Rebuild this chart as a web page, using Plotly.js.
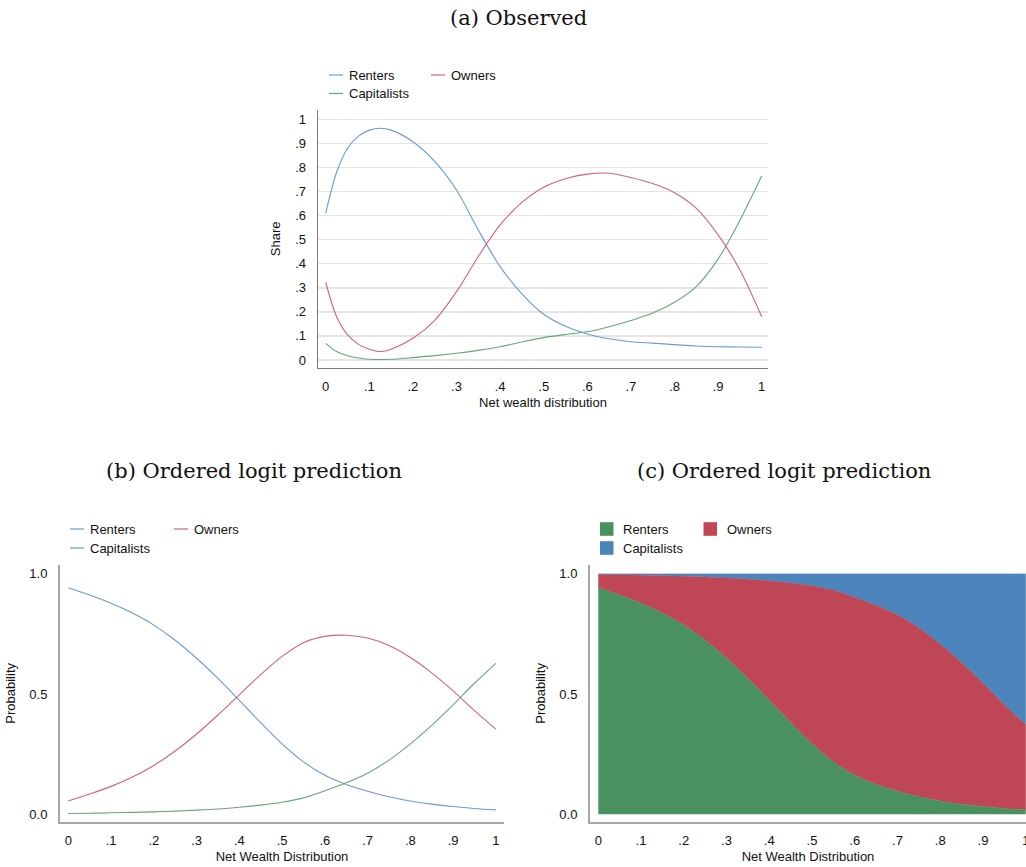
<!DOCTYPE html>
<html>
<head>
<meta charset="utf-8">
<script src="https://cdn.plot.ly/plotly-3.0.1.min.js"></script>
<style>
  html, body { margin: 0; padding: 0; background: #ffffff; overflow: hidden; }
  #chart { width: 1026px; height: 867px; }
</style>
</head>
<body>
<div id="chart"></div>
<script>
// ---- data ----
const seriesNames = ['Renters', 'Owners', 'Capitalists'];

// (a) observed shares along the net wealth distribution
const obsX = [0, 0.025, 0.05, 0.075, 0.1, 0.125, 0.15, 0.2, 0.25, 0.3, 0.35, 0.4, 0.45, 0.5, 0.55, 0.6, 0.65, 0.7, 0.75, 0.8, 0.85, 0.9, 0.95, 1];
const obsRenters = [0.61, 0.78, 0.88, 0.93, 0.955, 0.963, 0.955, 0.907, 0.825, 0.706, 0.54, 0.388, 0.275, 0.19, 0.14, 0.108, 0.088, 0.076, 0.07, 0.064, 0.058, 0.055, 0.054, 0.053];
const obsOwners = [0.323, 0.18, 0.105, 0.065, 0.045, 0.035, 0.045, 0.09, 0.165, 0.284, 0.43, 0.561, 0.655, 0.718, 0.753, 0.772, 0.776, 0.758, 0.733, 0.695, 0.63, 0.52, 0.374, 0.18];
const obsCapitalists = [0.069, 0.035, 0.018, 0.008, 0.003, 0.002, 0.003, 0.01, 0.018, 0.028, 0.04, 0.055, 0.075, 0.093, 0.106, 0.117, 0.138, 0.164, 0.195, 0.24, 0.305, 0.42, 0.58, 0.765];

// (b), (c) ordered logit predicted probabilities
const predX = [0, 0.05, 0.1, 0.15, 0.2, 0.25, 0.3, 0.35, 0.4, 0.45, 0.5, 0.55, 0.6, 0.65, 0.7, 0.75, 0.8, 0.85, 0.9, 0.95, 1];
const predRenters = [0.942, 0.912, 0.878, 0.837, 0.787, 0.724, 0.649, 0.565, 0.474, 0.381, 0.293, 0.218, 0.162, 0.124, 0.096, 0.073, 0.055, 0.042, 0.032, 0.024, 0.018];
const predOwners = [0.055, 0.084, 0.116, 0.155, 0.203, 0.263, 0.334, 0.413, 0.497, 0.581, 0.657, 0.714, 0.74, 0.745, 0.733, 0.702, 0.652, 0.588, 0.513, 0.431, 0.354];
const predCapitalists = [0.003, 0.004, 0.006, 0.008, 0.01, 0.013, 0.017, 0.022, 0.029, 0.038, 0.05, 0.068, 0.098, 0.131, 0.171, 0.225, 0.293, 0.37, 0.455, 0.545, 0.628];

// tick labels
const xTickVals = [0, 0.1, 0.2, 0.3, 0.4, 0.5, 0.6, 0.7, 0.8, 0.9, 1];
const xTickText = ['0', '.1', '.2', '.3', '.4', '.5', '.6', '.7', '.8', '.9', '1'];
const shareTickVals = [0, 0.1, 0.2, 0.3, 0.4, 0.5, 0.6, 0.7, 0.8, 0.9, 1];
const shareTickText = ['0', '.1', '.2', '.3', '.4', '.5', '.6', '.7', '.8', '.9', '1'];
const probTickVals = [0, 0.5, 1];
const probTickText = ['0.0', '0.5', '1.0'];

const panelTitles = ['(a) Observed', '(b) Ordered logit prediction', '(c) Ordered logit prediction'];
const shareTitle = 'Share';
const probTitle = 'Probability';
const xTitleA = 'Net wealth distribution';
const xTitleBC = 'Net Wealth Distribution';

// ---- styling ----
const W = 1026, H = 867;
const SANS = 'Liberation Sans, Arial, sans-serif';
const SERIF = 'DejaVu Serif, serif';
const TEXT = '#111111';
const FS = 13;
const lineColors = { Renters: '#6a9bd1', Owners: '#d0637a', Capitalists: '#67a677' };
const fillColors = { Renters: '#49915e', Owners: '#bf4655', Capitalists: '#4b85bb' };

// pixel helpers -> paper fractions
const px = v => v / W;
const py = v => 1 - v / H;
const xDom = (l, r) => [px(l), px(r)];
const yDom = (t, b) => [py(b), py(t)];

const obsSeries = [obsRenters, obsOwners, obsCapitalists];
const predSeries = [predRenters, predOwners, predCapitalists];

const traces = [];
seriesNames.forEach((name, i) => {
  traces.push({
    type: 'scatter', mode: 'lines', name: name,
    x: obsX, y: obsSeries[i], xaxis: 'x', yaxis: 'y',
    line: { color: lineColors[name], width: 1.1, shape: 'spline', smoothing: 0.9 },
    showlegend: false, hoverinfo: 'skip'
  });
});
seriesNames.forEach((name, i) => {
  traces.push({
    type: 'scatter', mode: 'lines', name: name,
    x: predX, y: predSeries[i], xaxis: 'x2', yaxis: 'y2',
    line: { color: lineColors[name], width: 1.1, shape: 'spline', smoothing: 1 },
    showlegend: false, hoverinfo: 'skip'
  });
});
seriesNames.forEach((name, i) => {
  traces.push({
    type: 'scatter', mode: 'lines', name: name,
    x: predX, y: predSeries[i], xaxis: 'x3', yaxis: 'y3',
    stackgroup: 'stack',
    fillcolor: fillColors[name],
    line: { color: fillColors[name], width: 0.6, shape: 'spline', smoothing: 1 },
    showlegend: false, hoverinfo: 'skip'
  });
});

function xAxis(domain, range, anchor, title) {
  return {
    domain: domain, range: range, anchor: anchor,
    tickmode: 'array', tickvals: xTickVals, ticktext: xTickText,
    ticks: 'outside', ticklen: 6, tickcolor: 'rgba(0,0,0,0)',
    ticklabeloverflow: 'allow',
    tickfont: { family: SANS, size: FS, color: TEXT },
    showgrid: false, zeroline: false,
    showline: true, linecolor: anchor === 'y' ? '#7a7a7a' : '#a8a8a8', linewidth: anchor === 'y' ? 1.3 : 2,
    title: { text: title, font: { family: SANS, size: FS, color: TEXT }, standoff: 5 },
    automargin: 'height', fixedrange: true
  };
}
function yAxis(domain, range, anchor, vals, text, title, grid) {
  return {
    domain: domain, range: range, anchor: anchor,
    tickmode: 'array', tickvals: vals, ticktext: text,
    ticks: 'outside', ticklen: 8, tickcolor: 'rgba(0,0,0,0)',
    tickfont: { family: SANS, size: FS, color: TEXT },
    showgrid: grid, gridcolor: '#e4e4e4', gridwidth: 1.5,
    zeroline: false,
    showline: true, linecolor: anchor === 'x' ? '#7a7a7a' : '#a8a8a8', linewidth: anchor === 'x' ? 1.3 : 2,
    title: { text: title, font: { family: SANS, size: FS, color: TEXT }, standoff: 11 },
    automargin: 'width', fixedrange: true
  };
}

// ---- legends (line samples / swatches with labels) ----
const shapes = [];
const annotations = [];
function lineLegend(entries) {
  entries.forEach(e => {
    shapes.push({ type: 'line', xref: 'paper', yref: 'paper',
      x0: px(e.x), x1: px(e.x + 14), y0: py(e.y), y1: py(e.y),
      line: { color: lineColors[e.name], width: 1.2 } });
    annotations.push({ xref: 'paper', yref: 'paper', x: px(e.x + 18), y: py(e.y),
      xanchor: 'left', yanchor: 'middle', showarrow: false, text: e.name,
      font: { family: SANS, size: FS, color: TEXT } });
  });
}
function boxLegend(entries) {
  entries.forEach(e => {
    shapes.push({ type: 'rect', xref: 'paper', yref: 'paper',
      x0: px(e.x), x1: px(e.x + 13.5), y0: py(e.y + 6.8), y1: py(e.y - 6.8),
      fillcolor: fillColors[e.name], line: { width: 0 } });
    annotations.push({ xref: 'paper', yref: 'paper', x: px(e.x + 21), y: py(e.y),
      xanchor: 'left', yanchor: 'middle', showarrow: false, text: e.name,
      font: { family: SANS, size: FS, color: TEXT } });
  });
}
lineLegend([
  { name: seriesNames[0], x: 329, y: 75 },
  { name: seriesNames[1], x: 431, y: 75 },
  { name: seriesNames[2], x: 329, y: 93.5 }
]);
lineLegend([
  { name: seriesNames[0], x: 70, y: 529 },
  { name: seriesNames[1], x: 174, y: 529 },
  { name: seriesNames[2], x: 70, y: 548 }
]);
boxLegend([
  { name: seriesNames[0], x: 600, y: 529 },
  { name: seriesNames[1], x: 703.5, y: 529 },
  { name: seriesNames[2], x: 600, y: 548 }
]);

// panel titles
[[panelTitles[0], 518, 18], [panelTitles[1], 254, 471], [panelTitles[2], 784, 471]].forEach(t => {
  annotations.push({ xref: 'paper', yref: 'paper', x: px(t[1]), y: py(t[2]),
    xanchor: 'center', yanchor: 'middle', showarrow: false, text: t[0],
    font: { family: SERIF, size: 21, color: '#111111' } });
});

const layout = {
  width: W, height: H,
  margin: { l: 0, r: 0, t: 0, b: 0, pad: 0 },
  paper_bgcolor: '#ffffff', plot_bgcolor: '#ffffff',
  showlegend: false, hovermode: false,
  xaxis: xAxis(xDom(318, 768), [-0.0177, 1.0144], 'y', xTitleA),
  yaxis: yAxis(yDom(110, 367.7), [-0.032, 1.0386], 'x', shareTickVals, shareTickText, shareTitle, true),
  xaxis2: xAxis(xDom(60, 504), [-0.0194, 1.019], 'y2', xTitleBC),
  yaxis2: yAxis(yDom(565, 821.7), [-0.031, 1.037], 'x2', probTickVals, probTickText, probTitle, false),
  xaxis3: xAxis(xDom(590, 1026), [-0.0194, 1.0005], 'y3', xTitleBC),
  yaxis3: yAxis(yDom(565, 821.7), [-0.031, 1.037], 'x3', probTickVals, probTickText, probTitle, false),
  shapes: shapes,
  annotations: annotations
};

Plotly.newPlot('chart', traces, layout, { staticPlot: true, displayModeBar: false });
</script>
</body>
</html>
